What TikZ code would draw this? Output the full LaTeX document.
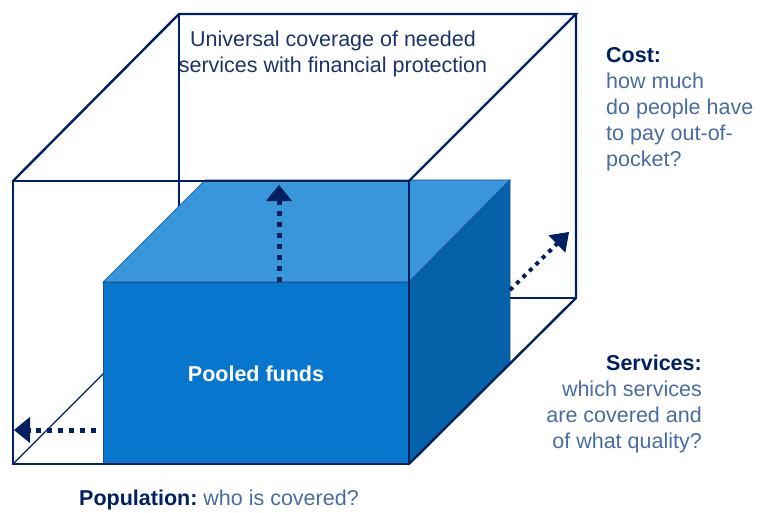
\documentclass[tikz,border=0pt]{standalone}
\usepackage{fontspec}
\setmainfont{Liberation Sans}
\usetikzlibrary{arrows.meta}
\definecolor{navy}{RGB}{0,32,96}
\definecolor{navytext}{RGB}{28,50,104}
\definecolor{softblue}{RGB}{72,108,162}
\definecolor{frontblue}{RGB}{8,118,204}
\definecolor{topblue}{RGB}{58,150,218}
\definecolor{sideblue}{RGB}{6,98,168}
\definecolor{faceedge}{RGB}{30,78,150}
\begin{document}
\begin{tikzpicture}[x=1pt,y=-1pt,
  edge/.style={draw=navy, line width=2.4pt, line join=miter},
  hidden/.style={draw=navy, line width=1.1pt},
  face/.style={draw=faceedge, line width=0.7pt},
  dotarrow/.style={draw=navy, line width=5pt, dash pattern=on 5pt off 6pt,
    -{Triangle[length=16pt,width=26pt,line width=0.8pt]}},
  smalldots/.style={draw=navy, line width=4pt, dash pattern=on 4pt off 5pt,
    -{Triangle[length=17pt,width=24pt,line width=0.8pt]}},
  txt/.style={inner sep=0pt, font=\fontsize{21.5}{26}\selectfont\frenchspacing}]
\useasboundingbox (0,0) rectangle (765,513);
% outer box corners
\coordinate (A) at (13,181);
\coordinate (B) at (409,181);
\coordinate (C) at (409,464);
\coordinate (D) at (13,464);
\coordinate (E) at (179,14);
\coordinate (F) at (576,14);
\coordinate (G) at (576,298);
\coordinate (H) at (179,298);
% blue box corners
\coordinate (P1) at (103,282);
\coordinate (P2) at (409,282);
\coordinate (P3) at (409,464);
\coordinate (P4) at (103,464);
\coordinate (Q1) at (205,180);
\coordinate (Q2) at (510,180);
\coordinate (Q3) at (510,362);
% hidden edges
\draw[hidden] (E) -- (H) -- (G);
\draw[hidden] (D) -- (H);
% blue box
\filldraw[face, fill=frontblue] (P1) -- (P2) -- (P3) -- (P4) -- cycle;
\filldraw[face, fill=topblue] (P1) -- (Q1) -- (Q2) -- (P2) -- cycle;
\filldraw[face, fill=sideblue] (P2) -- (Q2) -- (Q3) -- (P3) -- cycle;
% outer visible edges
\draw[edge] (A) -- (B) -- (C) -- (D) -- cycle;
\draw[edge] (A) -- (E) -- (F) -- (B);
\draw[edge] (F) -- (G) -- (C);
% arrows
\coordinate (upS) at (279,282);
\coordinate (upE) at (279,185);
\coordinate (lfS) at (96,430);
\coordinate (lfE) at (14,430);
\coordinate (dgS) at (510,290);
\coordinate (dgE) at (569,232);
\draw[dotarrow] (upS) -- (upE);
\draw[dotarrow] (lfS) -- (lfE);
\draw[smalldots] (dgS) -- (dgE);
% texts
\node[txt, text=navytext, align=center, anchor=north] (ucov) at (333,30.5)
  {Universal coverage of needed\\services with financial protection};
\node[txt, text=softblue, align=left, anchor=north west] (cost) at (606,47.3)
  {\textbf{\color{navy}Cost:}\\how much\\do people have\\to pay out-of-\\pocket?};
\node[txt, text=softblue, align=right, anchor=north east] (serv) at (702,354.3)
  {\textbf{\color{navy}Services:}\\which services\\are covered and\\of what quality?};
\node[txt, text=softblue, anchor=base west] (pop) at (79,505)
  {\textbf{\color{navy}Population:} who is covered?};
\node[txt, text=white, anchor=base] (pool) at (256,381) {\textbf{Pooled funds}};
\end{tikzpicture}
\end{document}
